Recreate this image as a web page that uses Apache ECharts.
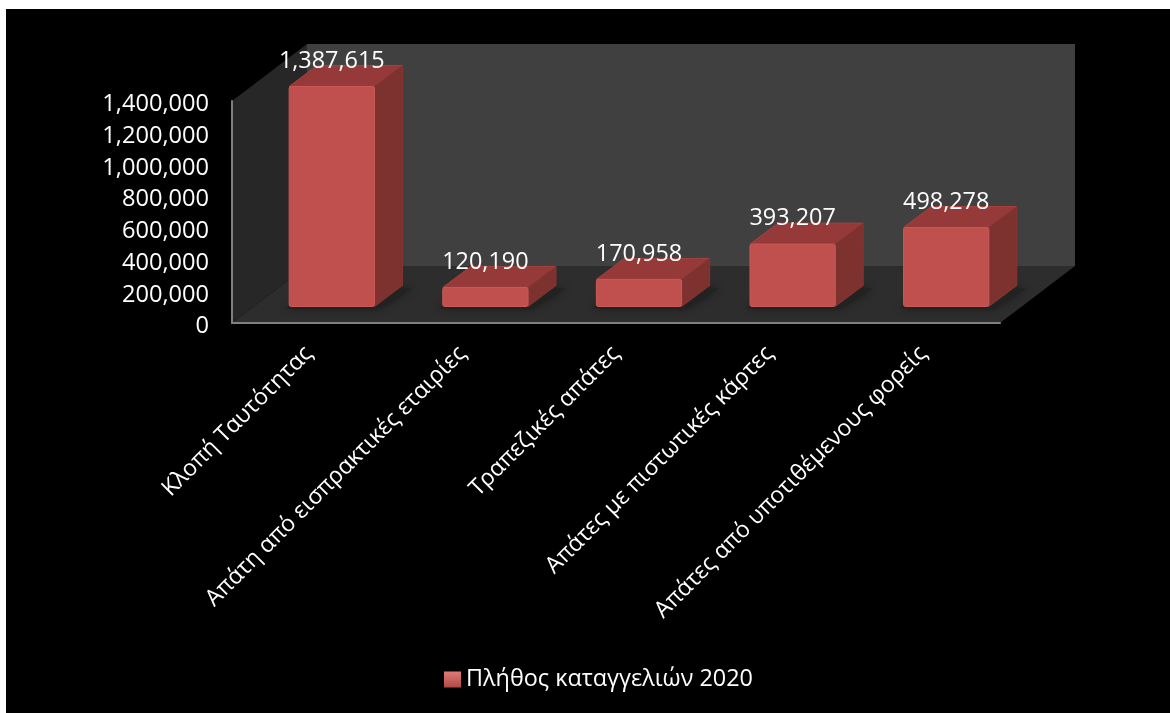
<!DOCTYPE html>
<html>
<head>
<meta charset="utf-8">
<style>
  html, body { margin: 0; padding: 0; background: #fff; width: 1170px; height: 713px; overflow: hidden; }
  #panel { position: absolute; left: 6px; top: 9px; width: 1164px; height: 704px; background: #000; }
  #chart { position: absolute; left: 0; top: 0; width: 1170px; height: 713px; }
</style>
<script src="https://cdn.jsdelivr.net/npm/echarts@6/dist/echarts.min.js"></script>
</head>
<body>
<div id="panel"></div>
<div id="chart"></div>
<script>
const categories = [
  'Κλοπή Ταυτότητας',
  'Απάτη από εισπρακτικές εταιρίες',
  'Τραπεζικές απάτες',
  'Απάτες με πιστωτικές κάρτες',
  'Απάτες από υποτιθέμενους φορείς'
];
const complaints2020 = [1387615, 120190, 170958, 393207, 498278];
const seriesName = 'Πλήθος καταγγελιών 2020';
const fontFamily = '"Open Sans", "Noto Sans", sans-serif';

// Projection of the pseudo-3D box: how far the back plane sits from the front plane.
const roomDepth = { x: 75, y: -57 };
const barShift = { x: 23, y: -16.5 };
const barDepth = { x: 28, y: -21 };
const barWidthRatio = 0.555;

const poly = (points, fill, extra) => Object.assign({
  type: 'polygon',
  shape: { points },
  style: Object.assign({ fill }, extra || {})
});

function renderRoom(params) {
  const c = params.coordSys;
  const l = c.x, r = c.x + c.width, t = c.y, b = c.y + c.height;
  const d = roomDepth;
  return {
    type: 'group',
    children: [
      poly([[l + d.x, t + d.y], [r + d.x, t + d.y], [r + d.x, b + d.y], [l + d.x, b + d.y]], '#404040'),
      poly([[l, t], [l + d.x, t + d.y], [l + d.x, b + d.y], [l, b]], '#272727'),
      poly([[l, b], [l + d.x, b + d.y], [r + d.x, b + d.y], [r, b]], '#2d2d2d')
    ]
  };
}

function renderBar(params, api) {
  const i = api.value(0);
  const v = api.value(1);
  const top = api.coord([i, v]);
  const base = api.coord([i, 0]);
  const w = api.size([1, 0])[0] * barWidthRatio;
  const x0 = top[0] + barShift.x - w / 2;
  const x1 = x0 + w;
  const y0 = top[1] + barShift.y;
  const y1 = base[1] + barShift.y;
  const dx = barDepth.x, dy = barDepth.y;
  return {
    type: 'group',
    children: [
      // soft contact shadow on the floor
      poly([[x0 - 4, y1 + 2], [x1 + 4, y1 + 2], [x1 + dx + 10, y1 + dy + 3], [x0 + dx, y1 + dy + 3]], '#222222',
        { shadowBlur: 8, shadowColor: 'rgba(0,0,0,0.45)' }),
      poly([[x0, y0], [x0 + dx, y0 + dy], [x1 + dx, y0 + dy], [x1, y0]], '#953a38',
        { stroke: '#a5423f', lineWidth: 1, lineJoin: 'round' }),
      poly([[x1, y0], [x1 + dx, y0 + dy], [x1 + dx, y1 + dy], [x1, y1]], '#7d322f',
        { stroke: '#86352f', lineWidth: 1, lineJoin: 'round' }),
      {
        type: 'rect',
        shape: { x: x0, y: y0, width: w, height: y1 - y0, r: 2 },
        style: { fill: '#c0504d', stroke: '#cb5a56', lineWidth: 1 }
      },
      {
        type: 'text',
        style: {
          x: x0 + w / 2,
          y: y0 - 25.5,
          text: v.toLocaleString('en-US'),
          fill: '#fff',
          font: '23.4px ' + fontFamily,
          align: 'center',
          verticalAlign: 'middle'
        }
      }
    ]
  };
}

const chart = echarts.init(document.getElementById('chart'), null, { renderer: 'canvas' });
chart.setOption({
  animation: false,
  backgroundColor: 'transparent',
  textStyle: { fontFamily },
  grid: { left: 232, top: 101, width: 768, height: 222, containLabel: false },
  legend: {
    bottom: 22,
    left: 444,
    padding: 0,
    itemWidth: 17,
    itemHeight: 16,
    itemGap: 7,
    selectedMode: false,
    data: [{
      name: seriesName,
      icon: 'rect',
      itemStyle: {
        color: { type: 'linear', x: 0, y: 0, x2: 0, y2: 1,
          colorStops: [{ offset: 0, color: '#e07a76' }, { offset: 1, color: '#b04a47' }] }
      }
    }],
    textStyle: { color: '#fff', fontSize: 23.4, fontFamily }
  },
  xAxis: {
    type: 'category',
    data: categories,
    z: 4,
    axisLine: { show: true, lineStyle: { color: '#7f7f7f', width: 2 } },
    axisTick: { show: false },
    splitLine: { show: false },
    axisLabel: {
      interval: 0, rotate: 45, margin: 27,
      color: '#fff', fontSize: 23, fontFamily
    }
  },
  yAxis: {
    type: 'value',
    min: 0,
    max: 1400000,
    interval: 200000,
    z: 4,
    axisLine: { show: true, lineStyle: { color: '#7f7f7f', width: 2 } },
    axisTick: { show: false },
    splitLine: { show: false },
    axisLabel: {
      margin: 23,
      verticalAlign: 'top',
      lineHeight: 7,
      color: '#fff', fontSize: 23.6, fontFamily,
      formatter: v => v.toLocaleString('en-US')
    }
  },
  series: [
    { type: 'custom', name: 'room', silent: true, z: 1, renderItem: renderRoom, data: [[0, 0]], clip: false },
    {
      type: 'custom',
      name: seriesName,
      z: 3,
      clip: false,
      renderItem: renderBar,
      encode: { x: 0, y: 1 },
      itemStyle: { color: '#c0504d' },
      data: complaints2020.map((v, i) => [i, v])
    }
  ]
});
</script>
</body>
</html>
